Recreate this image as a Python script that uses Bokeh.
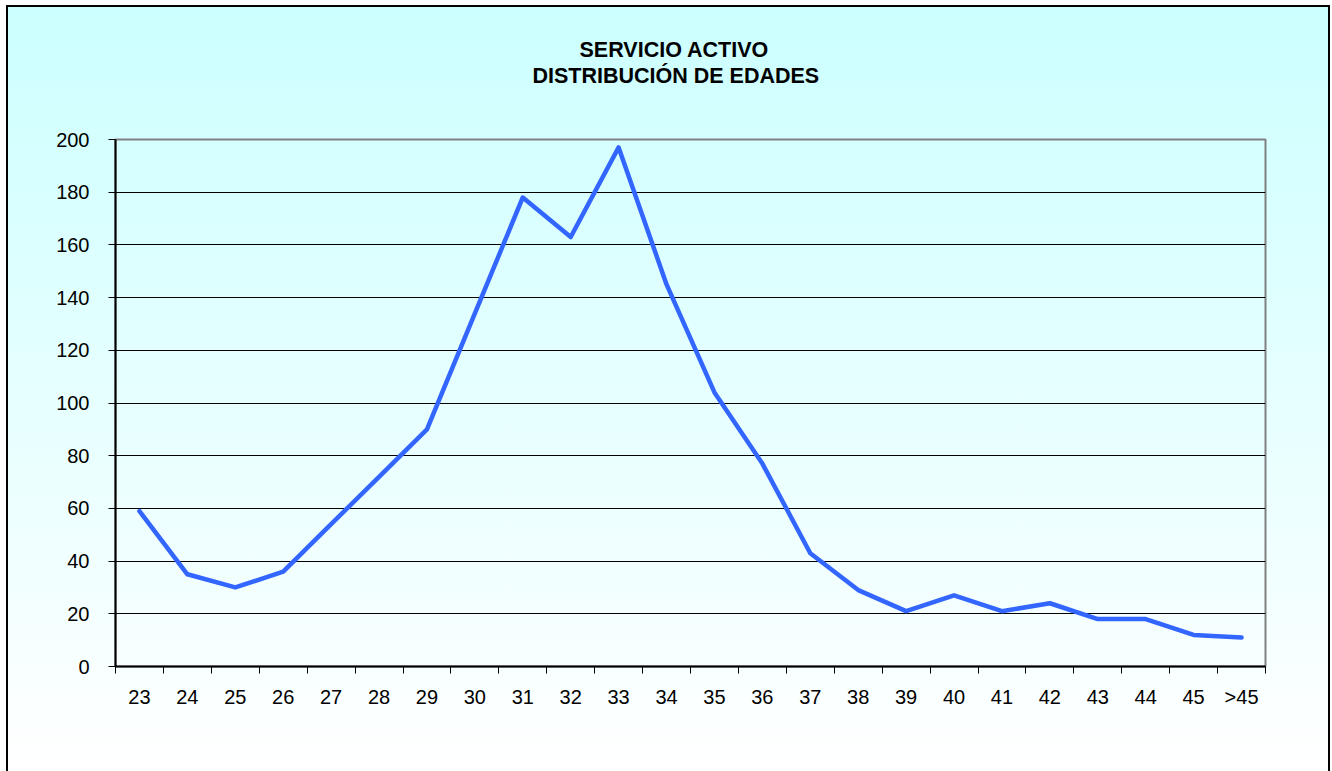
from bokeh.plotting import figure
from bokeh.models import FixedTicker, Range1d, Title
from bokeh.embed import file_html
from bokeh.resources import INLINE

categories = ["23", "24", "25", "26", "27", "28", "29", "30", "31", "32", "33", "34",
              "35", "36", "37", "38", "39", "40", "41", "42", "43", "44", "45", ">45"]
values = [59, 35, 30, 36, 54, 72, 90, 134, 178, 163, 197, 145,
          104, 77, 43, 29, 21, 27, 21, 24, 18, 18, 12, 11]
y_ticks = list(range(0, 201, 20))
title_lines = ["SERVICIO ACTIVO", "DISTRIBUCIÓN DE EDADES"]

n = len(categories)
xs = [i + 0.5 for i in range(n)]

p = figure(width=1324, height=766, output_backend="svg", toolbar_location=None,
           x_range=Range1d(0, n), y_range=Range1d(0, 200),
           min_border_left=109, min_border_right=65, min_border_top=134, min_border_bottom=105)
p.title = None

p.styles = {
    "background": "linear-gradient(to bottom, #ccffff 0%, #ffffff 100%)",
    "box-shadow": "inset 2px 2px 0 0 #000000, inset -2px 0 0 0 #000000",
    "margin-left": "6px",
    "margin-top": "5px",
}
p.border_fill_color = None
p.background_fill_color = None
p.outline_line_color = "#808080"
p.outline_line_width = 2

xa = p.below[0]
ya = p.left[0]

title_style = dict(text_font="Liberation Sans", text_font_size="21.5px",
                   text_font_style="bold", text_color="#000000")

# blank spacer panel between the frame and the title lines
p.add_layout(Title(text=" ", align="left", standoff=26, **title_style), "above")

for text, off in [(title_lines[1], 417), (title_lines[0], 464)]:
    p.add_layout(Title(text=text, align="left", offset=off, standoff=0, **title_style), "above")

p.line(xs, values, line_color="#3366ff", line_width=4.5, line_join="round", line_cap="round")

# x axis: labels at category centers, tick marks at category boundaries
xa.ticker = FixedTicker(ticks=xs, minor_ticks=list(range(n + 1)))
xa.major_label_overrides = {x: c for x, c in zip(xs, categories)}
xa.major_tick_line_color = None
xa.major_tick_out = 0
xa.major_tick_in = 0
xa.minor_tick_out = 7
xa.minor_tick_in = 0
xa.minor_tick_line_color = "#000000"
xa.axis_line_color = "#000000"
xa.axis_line_width = 2
xa.major_label_text_font = "Liberation Sans"
xa.major_label_text_font_size = "20px"
xa.major_label_text_color = "#000000"
xa.major_label_standoff = 12

ya.ticker = FixedTicker(ticks=y_ticks)
ya.minor_tick_line_color = None
ya.major_tick_out = 7
ya.major_tick_in = 0
ya.major_tick_line_color = "#000000"
ya.axis_line_color = "#000000"
ya.axis_line_width = 2
ya.major_label_text_font = "Liberation Sans"
ya.major_label_text_font_size = "20px"
ya.major_label_text_color = "#000000"
ya.major_label_standoff = 19

p.xgrid.grid_line_color = None
p.ygrid.ticker = FixedTicker(ticks=y_ticks)
p.ygrid.grid_line_color = "#000000"
p.ygrid.grid_line_width = 1

open("out.html", "w").write(file_html(p, INLINE))
